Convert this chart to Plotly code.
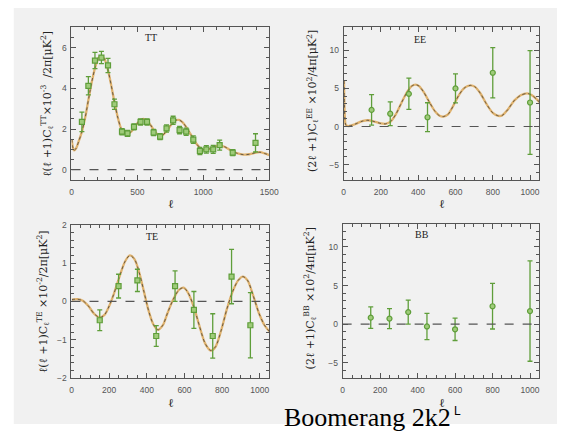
import plotly.graph_objects as go

# ---------------- data ----------------
tt_l = [79, 128, 178, 227, 277, 326, 383, 425, 474, 524, 573, 623, 672, 721, 771, 820, 870, 924, 974, 1023, 1075, 1124, 1223, 1396]
tt_v = [2.35, 4.13, 5.37, 5.52, 5.13, 3.22, 1.87, 1.79, 2.11, 2.35, 2.35, 1.83, 1.63, 2.03, 2.43, 1.95, 1.87, 1.48, 0.92, 1.0, 1.0, 1.21, 0.84, 1.32]
tt_e = [0.48, 0.45, 0.40, 0.30, 0.35, 0.25, 0.15, 0.15, 0.15, 0.15, 0.15, 0.15, 0.15, 0.18, 0.20, 0.18, 0.18, 0.18, 0.18, 0.18, 0.20, 0.25, 0.15, 0.45]

tt_model_l = [2, 10, 20, 35, 55, 80, 105, 130, 155, 180, 205, 225, 250, 275, 300, 325, 350, 375, 400, 425,
              455, 485, 515, 545, 575, 605, 635, 665, 690, 720, 755, 790, 815, 845, 875, 910, 945, 980, 1010,
              1045, 1090, 1125, 1165, 1210, 1260, 1305, 1350, 1400, 1430, 1465, 1500]
tt_model_v = [1.5, 1.1, 0.95, 1.05, 1.4, 1.9, 2.6, 3.5, 4.35, 5.05, 5.5, 5.6, 5.45, 4.95, 4.2, 3.35, 2.6, 2.05, 1.8, 1.75,
              1.88, 2.15, 2.4, 2.5, 2.4, 2.15, 1.85, 1.68, 1.7, 1.88, 2.2, 2.43, 2.45, 2.32, 2.05, 1.68, 1.3, 1.05, 0.97,
              1.02, 1.15, 1.2, 1.12, 0.95, 0.8, 0.74, 0.76, 0.84, 0.86, 0.8, 0.72]

ee_l = [150, 250, 350, 450, 600, 800, 1000]
ee_v = [2.18, 1.68, 4.29, 1.22, 5.0, 7.06, 3.15]
ee_e = [2.0, 1.55, 2.05, 1.9, 1.9, 3.3, 6.8]

ee_model_l = [2, 4, 7, 12, 25, 60, 100, 130, 165, 200, 225, 250, 280, 310, 340, 365, 385, 405, 430, 460, 490,
              515, 535, 560, 590, 620, 650, 680, 705, 735, 765, 800, 830, 850, 880, 915, 950, 985, 1010, 1035, 1050]
ee_model_v = [6.0, 3.0, 1.0, 0.2, 0.05, 0.3, 0.7, 0.82, 0.65, 0.4, 0.35, 0.6, 1.6, 3.1, 4.5, 5.3, 5.5, 5.3, 4.5, 3.2, 2.0,
              1.4, 1.3, 1.6, 2.8, 4.2, 5.1, 5.4, 5.2, 4.3, 3.0, 1.8, 1.4, 1.45, 2.2, 3.4, 4.1, 4.35, 4.1, 3.6, 3.2]

te_l = [150, 250, 350, 450, 550, 650, 750, 850, 950]
te_v = [-0.49, 0.40, 0.55, -0.90, 0.40, -0.22, -0.90, 0.65, -0.62]
te_e = [0.27, 0.31, 0.29, 0.27, 0.40, 0.48, 0.58, 0.71, 0.85]

te_model_l = [2, 30, 60, 90, 120, 150, 175, 200, 225, 255, 285, 310, 335, 360, 385, 410, 435, 460, 485, 510,
              540, 570, 595, 620, 650, 680, 710, 740, 765, 795, 825, 855, 885, 910, 935, 965, 995, 1025, 1050]
te_model_v = [0.05, 0.06, 0.02, -0.12, -0.32, -0.42, -0.35, -0.12, 0.2, 0.65, 1.05, 1.2, 1.1, 0.75, 0.25, -0.25,
              -0.6, -0.74, -0.62, -0.3, 0.05, 0.3, 0.36, 0.22, -0.15, -0.65, -1.1, -1.28, -1.18, -0.75, -0.2, 0.25,
              0.55, 0.65, 0.55, 0.15, -0.3, -0.62, -0.78]

bb_l = [150, 250, 350, 450, 600, 800, 1000]
bb_v = [0.84, 0.72, 1.56, -0.30, -0.67, 2.32, 1.69]
bb_e = [1.4, 1.3, 1.55, 1.7, 1.45, 2.95, 6.5]

panel_names = ["TT", "EE", "TE", "BB"]
y_titles = [
    "ℓ(ℓ +1)C<sub>ℓ</sub><sup>TT</sup>×10<sup>-3</sup>  /2π[μK<sup>2</sup>]",
    "(2ℓ +1)C<sub>ℓ</sub><sup>EE</sup> ×10<sup>2</sup>/4π[μK<sup>2</sup>]",
    "ℓ(ℓ +1)C<sub>ℓ</sub><sup>TE</sup> ×10<sup>-2</sup>/2π[μK<sup>2</sup>]",
    "(2ℓ +1)C<sub>ℓ</sub><sup>BB</sup> ×10<sup>2</sup>/4π[μK<sup>2</sup>]",
]
x_title = "ℓ"
big_label = "Boomerang 2k2"

# ---------------- styling ----------------
W, H = 567, 432
BG = "#f1f1f1"
AX = "#555555"
ORANGE = "#dfb26e"
GREEN = "#5f9e3a"
FILL = "#9fcb7a"


def px_x(p):
    return p / W


def px_y(p):
    return 1 - p / H


# panel pixel boxes (left, right, top, bottom)
boxes = [(71, 273, 23, 179), (349, 549, 23, 179), (71, 273, 225, 382), (348, 549, 224, 382)]
name_pos = [(152, 33), (427, 35), (153, 237), (429, 235)]
ytitle_pos = [(46, 101), (317, 98), (42, 304), (315, 300)]
xranges = [[0, 1500], [0, 1050], [0, 1050], [0, 1050]]
yranges = [[-0.5, 7], [-7, 13], [-2, 2], [-7, 13]]
xdt = [500, 200, 200, 200]
xminor = [100, 50, 50, 50]
ydt = [2, 5, 1, 5]
yminor = [0.5, 1, 0.2, 1]

fig = go.Figure()

datasets = [
    (tt_l, tt_v, tt_e, tt_model_l, tt_model_v, "square"),
    (ee_l, ee_v, ee_e, ee_model_l, ee_model_v, "circle"),
    (te_l, te_v, te_e, te_model_l, te_model_v, "square"),
    (bb_l, bb_v, bb_e, None, None, "circle"),
]

for i, (l, v, e, ml, mv, sym) in enumerate(datasets):
    n = i + 1
    xa = "x" if n == 1 else f"x{n}"
    ya = "y" if n == 1 else f"y{n}"
    if ml is not None:
        fig.add_trace(go.Scatter(x=ml, y=mv, mode="lines", xaxis=xa, yaxis=ya,
                                 line=dict(color=ORANGE, width=2.3, shape="spline", smoothing=0.8),
                                 showlegend=False, hoverinfo="skip"))
        fig.add_trace(go.Scatter(x=ml, y=mv, mode="lines", xaxis=xa, yaxis=ya,
                                 line=dict(color="#333333", width=0.7, dash="dot", shape="spline", smoothing=0.8),
                                 showlegend=False, hoverinfo="skip"))
    fig.add_trace(go.Scatter(x=l, y=v, mode="markers", xaxis=xa, yaxis=ya,
                             error_y=dict(type="data", array=e, color=GREEN, thickness=1.3, width=2.5),
                             marker=dict(symbol=sym, size=5, color=FILL, line=dict(color=GREEN, width=1.2)),
                             showlegend=False))

layout = dict(
    width=W, height=H,
    margin=dict(l=0, r=0, t=0, b=0),
    paper_bgcolor="white",
    plot_bgcolor=BG,
    showlegend=False,
    font=dict(family="Liberation Sans", size=9, color="#555555"),
)

annotations = []
shapes = [dict(type="rect", xref="paper", yref="paper", x0=px_x(12), x1=1, y0=px_y(429), y1=px_y(3),
               fillcolor=BG, line=dict(width=0), layer="below")]


def ann(text, x, y, size, family, color="#222222", angle=0):
    return dict(text=text, xref="paper", yref="paper", x=px_x(x), y=px_y(y), showarrow=False,
                xanchor="center", yanchor="middle", textangle=angle,
                font=dict(family=family, size=size, color=color))


for i in range(4):
    n = i + 1
    L, R, T, B = boxes[i]
    xk = "xaxis" if n == 1 else f"xaxis{n}"
    yk = "yaxis" if n == 1 else f"yaxis{n}"
    xa = "x" if n == 1 else f"x{n}"
    ya = "y" if n == 1 else f"y{n}"
    common = dict(showline=True, linecolor=AX, linewidth=1, mirror="ticks", ticks="inside",
                  ticklen=5, tickcolor=AX, tickwidth=1, showgrid=False, zeroline=False,
                  tickfont=dict(family="Liberation Sans", size=8.5, color="#555555"))
    layout[xk] = dict(domain=[px_x(L), px_x(R)], range=xranges[i], anchor=ya, dtick=xdt[i], tick0=0,
                      ticklabelstandoff=4,
                      minor=dict(dtick=xminor[i], ticks="inside", ticklen=3, tickcolor=AX, showgrid=False),
                      **common)
    layout[yk] = dict(domain=[px_y(B), px_y(T)], range=yranges[i], anchor=xa, dtick=ydt[i], tick0=0,
                      ticklabelstandoff=2,
                      minor=dict(dtick=yminor[i], ticks="inside", ticklen=3, tickcolor=AX, showgrid=False),
                      **common)
    # zero line
    shapes.append(dict(type="line", xref=f"{xa} domain", yref=ya, x0=0, x1=1, y0=0, y1=0,
                       line=dict(color="#555555", width=1.2, dash="dash"), layer="above"))
    annotations.append(ann(panel_names[i], name_pos[i][0], name_pos[i][1], 10, "Liberation Serif"))
    annotations.append(ann(x_title, (L + R) / 2 + 1, B + 25, 12, "DejaVu Serif"))
    annotations.append(ann(y_titles[i], ytitle_pos[i][0], ytitle_pos[i][1], 11, "DejaVu Serif", angle=-90))

annotations.append(ann(big_label, 373, 422, 26, "Liberation Serif", color="black"))
annotations.append(ann("L", 465, 416, 12, "Liberation Sans", color="black"))

layout["annotations"] = annotations
layout["shapes"] = shapes
fig.update_layout(**layout)

fig.write_html("out.html")
